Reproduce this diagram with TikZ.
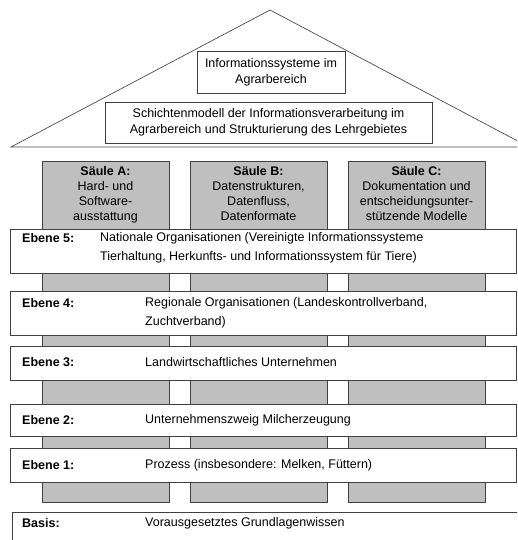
\documentclass[tikz,border=0pt]{standalone}
\usepackage{fontspec}
\setmainfont{Liberation Sans}
\usetikzlibrary{positioning}

\begin{document}
\begin{tikzpicture}
  [
    x=1pt, y=-1pt,
    frame/.style  = {draw=black!75, line width=0.8pt},
    box/.style    = {frame, fill=white, inner sep=0pt},
    pillar/.style = {frame, fill=black!25},
    txt/.style    = {inner sep=0pt, font=\fontsize{12.5}{15}\selectfont},
    wide/.style   = {txt, font=\fontsize{12.5}{19}\selectfont, align=left},
  ]
\useasboundingbox (0,0) rectangle (517,540);
\clip (0,0) rectangle (517,540);

%Left and right end of the level boxes
\def \xl{10}
\def \xr{516}

%Top and bottom of the pillars
\def \ptop{161}
\def \pbot{502}

%The roof
\draw[black!70, line width=0.7pt] (11,147) -- (270,10) -- (529,147) -- cycle;

\node[box, minimum width=148, minimum height=42] (title) at (271,72) {};
\node[txt, align=center, font=\fontsize{12.5}{16}\selectfont] (title-t) at (title.center)
  {Informationssysteme im\\Agrarbereich};
\node[box, minimum width=327, minimum height=41] (scheme) at (268.5,122.5) {};
\node[txt, align=center, font=\fontsize{12.5}{16}\selectfont] (scheme-t) at (scheme.center)
  {Schichtenmodell der Informationsverarbeitung im\\Agrarbereich und Strukturierung des Lehrgebietes};

%Pillars
\foreach \n/\a/\b/\t in {A/42/169/{Hard- und\\Software-\\ausstattung},
                         B/190/327/{Datenstrukturen,\\Datenfluss,\\Datenformate},
                         C/348/485/{Dokumentation und\\entscheidungsunter-\\stützende Modelle}}
{
\draw[pillar] (\a,\ptop) rectangle (\b,\pbot);
\node[txt, align=center, anchor=north] (saule\n) at ({(\a+\b)/2},166)
  {\textbf{Säule \n:}\\\t};
}

%Levels: top, bottom, y of label, y and x of text
\foreach \lvl/\top/\bot/\ly/\ty/\dx/\desc in
  {5/229/273/238/247.5/100/{Nationale Organisationen (Vereinigte Informationssysteme\\Tierhaltung, Herkunfts- und Informationssystem für Tiere)},
   4/291/335/303/312.5/145/{Regionale Organisationen (Landeskontrollverband,\\Zuchtverband)},
   3/346/380/362/362/145/{Landwirtschaftliches Unternehmen},
   2/404/436/420/420/145/{Unternehmenszweig Milcherzeugung},
   1/448/482/465/465/145/{Prozess (insbesondere: Melken, Füttern)}}
{
\draw[box] (\xl,\top) rectangle (\xr,\bot);
\node[txt, anchor=west] (e\lvl-t) at (22,\ly) {\textbf{Ebene \lvl:}};
\node[wide, anchor=west] (e\lvl-d) at (\dx,\ty) {\desc};
}

%Basis
\draw[box] (12,512) rectangle (530,560);
\node[txt, anchor=west] (basis-t) at (22,523) {\textbf{Basis:}};
\node[txt, anchor=west] (basis-d) at (145,523) {Vorausgesetztes Grundlagenwissen};
\end{tikzpicture}
\end{document}
